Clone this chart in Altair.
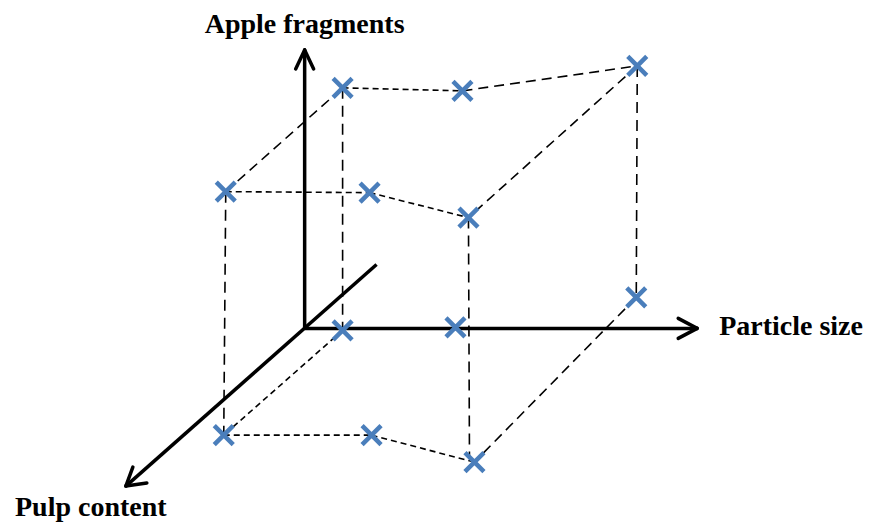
import altair as alt
import pandas as pd

# Projected positions of the twelve sample points (page pixels)
point_x = [343, 463, 638, 226, 370, 469, 343, 456, 637, 224, 372, 475]
point_y = [88, 91, 66, 192, 193, 218, 331, 328, 298, 436, 436, 463]

# Links between points (indices), short-dashed and long-dashed
short_links = [(0, 1), (3, 4), (4, 5), (6, 9), (9, 10), (10, 11)]
long_links = [(1, 2), (3, 0), (2, 5), (8, 11)]

# Vertical drop lines (long dash)
drop_x1 = [343, 226, 469, 638]
drop_y1 = [88, 192, 218, 66]
drop_x2 = [343, 224, 470, 637]
drop_y2 = [331, 436, 457, 298]

# Axis lines and their arrow heads
axis_x1 = [305, 305, 377]
axis_y1 = [329, 329, 265]
axis_x2 = [305, 698, 126]
axis_y2 = [50, 329, 487]
head_x1 = [305, 305, 698, 698, 126, 126]
head_y1 = [50, 50, 329, 329, 487, 487]
head_x2 = [296, 314, 679, 679, 133, 147]
head_y2 = [69, 69, 319, 339, 468, 484]

# Axis titles
label_text = ["Apple fragments", "Particle size", "Pulp content"]
label_x = [305, 720, 15]
label_y = [33, 336, 517]
label_align = ["center", "left", "left"]

xs = alt.Scale(domain=[8, 863], nice=False, zero=False)
ys = alt.Scale(domain=[8, 522], reverse=True, nice=False, zero=False)


def seg_df(links):
    return pd.DataFrame({
        "x": [point_x[a] for a, b in links],
        "y": [point_y[a] for a, b in links],
        "x2": [point_x[b] for a, b in links],
        "y2": [point_y[b] for a, b in links],
    })


def rule(df, **kw):
    return alt.Chart(df).mark_rule(**kw).encode(
        x=alt.X("x:Q", scale=xs, axis=None),
        y=alt.Y("y:Q", scale=ys, axis=None),
        x2="x2:Q",
        y2="y2:Q",
    )


short_df = seg_df(short_links)
long_df = seg_df(long_links)
drop_df = pd.DataFrame({"x": drop_x1, "y": drop_y1, "x2": drop_x2, "y2": drop_y2})
axis_df = pd.DataFrame({"x": axis_x1, "y": axis_y1, "x2": axis_x2, "y2": axis_y2})
head_df = pd.DataFrame({"x": head_x1, "y": head_y1, "x2": head_x2, "y2": head_y2})
pts_df = pd.DataFrame({"x": point_x, "y": point_y})

short_layer = rule(short_df, color="black", strokeWidth=1.6, strokeDash=[6, 4])
long_layer = rule(long_df, color="black", strokeWidth=1.6, strokeDash=[10, 6])
drop_layer = rule(drop_df, color="black", strokeWidth=1.6, strokeDash=[11, 7])
axis_layer = rule(axis_df, color="black", strokeWidth=3.5)
head_layer = rule(head_df, color="black", strokeWidth=3.5, strokeCap="round")

points = alt.Chart(pts_df).mark_point(
    shape="M-1,-1L1,1M1,-1L-1,1",
    filled=False,
    color="#4A7EBB",
    strokeWidth=4.5,
    size=360,
    opacity=1,
).encode(
    x=alt.X("x:Q", scale=xs, axis=None),
    y=alt.Y("y:Q", scale=ys, axis=None),
)

layers = [short_layer, long_layer, drop_layer, axis_layer, head_layer, points]
for t, x, y, a in zip(label_text, label_x, label_y, label_align):
    lab_df = pd.DataFrame({"x": [x], "y": [y], "t": [t]})
    layers.append(
        alt.Chart(lab_df).mark_text(
            font="Liberation Serif",
            fontWeight="bold",
            fontSize=28,
            align=a,
            baseline="alphabetic",
            color="black",
        ).encode(
            x=alt.X("x:Q", scale=xs, axis=None),
            y=alt.Y("y:Q", scale=ys, axis=None),
            text="t:N",
        )
    )

chart = alt.layer(*layers).properties(
    width=855,
    height=514,
    padding=0,
    autosize=alt.AutoSizeParams(type="fit", contains="padding"),
    background="white",
).configure_view(stroke=None)

chart.save("out.html", embed_options={"renderer": "svg", "actions": False})
